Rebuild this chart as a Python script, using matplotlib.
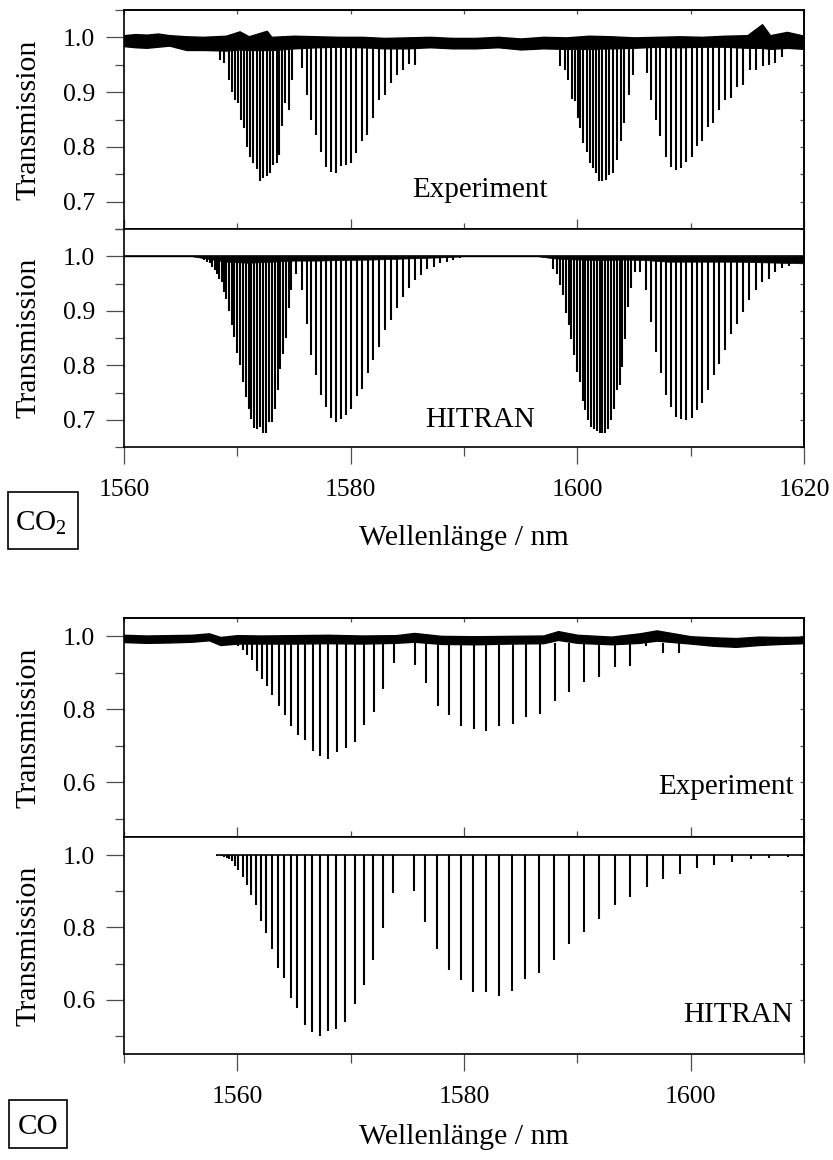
import numpy as np
import matplotlib.pyplot as plt
from matplotlib.patches import Rectangle
from matplotlib.ticker import MultipleLocator

plt.rcParams['font.family'] = ['Liberation Serif', 'DejaVu Serif']
plt.rcParams['mathtext.fontset'] = 'custom'
plt.rcParams['mathtext.rm'] = 'Liberation Serif'

# ---- CO2, HITRAN lines (nm, transmission at line centre) ----
co2_hit_nm = [
    1566.76, 1567.06, 1567.35, 1567.59, 1567.79, 1568.00, 1568.21, 1568.41, 1568.62, 1568.82,
    1569.03, 1569.26, 1569.50, 1569.74, 1570.00, 1570.24, 1570.50, 1570.74, 1571.00, 1571.24,
    1571.50, 1571.76, 1572.03, 1572.29, 1572.56, 1572.82, 1573.06, 1573.32, 1573.56, 1573.79,
    1574.03, 1574.29, 1574.53, 1574.76, 1575.15,
    1575.74, 1576.12, 1576.50, 1576.97, 1577.35, 1577.79, 1578.24, 1578.71, 1579.15, 1579.59,
    1580.06, 1580.53, 1581.00, 1581.50, 1582.00, 1582.50, 1583.03, 1583.53, 1584.06, 1584.59,
    1585.12, 1585.65, 1586.21, 1586.76, 1587.32, 1587.88, 1588.47, 1589.06, 1589.65,
    1597.88, 1598.18, 1598.44, 1598.71, 1598.97, 1599.24, 1599.47, 1599.71, 1599.97, 1600.21,
    1600.47, 1600.71, 1600.97, 1601.21, 1601.47, 1601.71, 1601.97, 1602.21, 1602.47, 1602.71,
    1602.97, 1603.21, 1603.47, 1603.74, 1603.97, 1604.24, 1604.50, 1604.76, 1605.09, 1605.50,
    1606.03, 1606.47, 1606.91, 1607.35, 1607.79, 1608.24, 1608.68, 1609.12, 1609.62, 1610.09,
    1610.56, 1611.03, 1611.53, 1612.03, 1612.53, 1613.06, 1613.59, 1614.12, 1614.65, 1615.18,
    1615.76, 1616.32, 1616.88, 1617.47, 1618.06, 1618.65, 1619.26, 1619.85]
co2_hit_T = [
    0.996, 0.993, 0.990, 0.987, 0.980, 0.974, 0.968, 0.959, 0.952, 0.935,
    0.921, 0.899, 0.873, 0.852, 0.823, 0.801, 0.769, 0.741, 0.720, 0.701,
    0.684, 0.683, 0.687, 0.676, 0.676, 0.696, 0.696, 0.720, 0.754, 0.793,
    0.821, 0.850, 0.905, 0.938, 0.968,
    0.938, 0.876, 0.818, 0.782, 0.745, 0.724, 0.703, 0.695, 0.701, 0.708,
    0.720, 0.744, 0.757, 0.785, 0.809, 0.834, 0.865, 0.883, 0.905, 0.925,
    0.942, 0.956, 0.966, 0.976, 0.980, 0.987, 0.990, 0.993, 0.996,
    0.977, 0.968, 0.947, 0.928, 0.895, 0.873, 0.849, 0.818, 0.788, 0.769,
    0.734, 0.717, 0.699, 0.687, 0.683, 0.679, 0.675, 0.676, 0.676, 0.683,
    0.699, 0.720, 0.754, 0.763, 0.797, 0.849, 0.907, 0.941, 0.971, 0.971,
    0.938, 0.880, 0.824, 0.785, 0.745, 0.724, 0.705, 0.702, 0.699, 0.703,
    0.717, 0.730, 0.754, 0.782, 0.803, 0.828, 0.858, 0.876, 0.898, 0.919,
    0.938, 0.952, 0.959, 0.971, 0.979, 0.983, 0.988, 0.991]
# weak hot-band lines near the top of the HITRAN trace (lower edge)
co2_weak_nm = [1560, 1566, 1567.5, 1569, 1571, 1573, 1575, 1577, 1579, 1582, 1585, 1588,
               1590, 1596.5, 1598, 1600, 1602, 1604, 1606, 1608, 1610, 1612, 1614, 1616,
               1618, 1620]
co2_weak_T = [1.0, 1.0, 0.995, 0.99, 0.988, 0.99, 0.992, 0.992, 0.993, 0.994, 0.996, 0.998,
              1.0, 1.0, 0.996, 0.994, 0.993, 0.994, 0.993, 0.99, 0.99, 0.99, 0.99, 0.989,
              0.988, 0.987]

# ---- CO2, experiment ----
co2_exp_nm = [
    1568.47, 1568.82, 1569.24, 1569.50, 1569.79, 1570.03, 1570.29, 1570.59, 1570.85, 1571.12,
    1571.41, 1571.71, 1572.00, 1572.29, 1572.59, 1572.88, 1573.18, 1573.47, 1573.71, 1573.97,
    1574.24, 1574.53, 1574.82,
    1575.68, 1576.12, 1576.53, 1576.94, 1577.35, 1577.79, 1578.24, 1578.68, 1579.12, 1579.56,
    1580.00, 1580.47, 1580.97, 1581.47, 1582.00, 1582.47, 1583.03, 1583.53, 1584.06, 1584.59,
    1585.12, 1585.67,
    1598.47, 1598.91, 1599.21, 1599.50, 1599.79, 1600.03, 1600.26, 1600.53, 1600.82, 1601.12,
    1601.35, 1601.65, 1601.91, 1602.21, 1602.50, 1602.82, 1603.18, 1603.53, 1603.85, 1604.15,
    1604.53, 1604.88,
    1606.12, 1606.47, 1606.91, 1607.29, 1607.79, 1608.24, 1608.68, 1609.12, 1609.59, 1610.09,
    1610.53, 1611.03, 1611.56, 1612.00, 1612.53, 1613.06, 1613.59, 1614.12, 1614.65, 1615.24,
    1615.77, 1616.41, 1616.94, 1617.44, 1618.03]
co2_exp_T = [
    0.959, 0.953, 0.923, 0.901, 0.886, 0.880, 0.849, 0.834, 0.800, 0.782,
    0.770, 0.759, 0.737, 0.744, 0.746, 0.752, 0.767, 0.770, 0.785, 0.838,
    0.880, 0.868, 0.922,
    0.944, 0.895, 0.849, 0.822, 0.790, 0.764, 0.755, 0.752, 0.765, 0.767,
    0.770, 0.788, 0.810, 0.822, 0.852, 0.885, 0.894, 0.916, 0.931, 0.940,
    0.952, 0.950,
    0.947, 0.941, 0.923, 0.887, 0.883, 0.852, 0.834, 0.807, 0.791, 0.770,
    0.761, 0.752, 0.737, 0.737, 0.740, 0.749, 0.752, 0.776, 0.810, 0.843,
    0.895, 0.932,
    0.935, 0.886, 0.849, 0.819, 0.782, 0.764, 0.758, 0.761, 0.773, 0.782,
    0.801, 0.810, 0.837, 0.843, 0.868, 0.886, 0.889, 0.910, 0.913, 0.941,
    0.941, 0.947, 0.950, 0.953, 0.965]
# noisy baseline band (upper / lower edge)
co2_base_nm = [1560, 1561, 1562, 1563, 1564, 1565.5, 1567, 1569, 1570.2, 1571, 1572.6, 1573,
               1575, 1577, 1579, 1581, 1583, 1585, 1587, 1589, 1591, 1593, 1595, 1597, 1599,
               1601, 1603, 1605, 1607, 1609, 1611, 1613, 1615, 1616.3, 1617, 1618.5, 1620]
co2_base_hi = [1.004, 1.006, 1.005, 1.007, 1.004, 1.002, 1.001, 1.003, 1.011, 1.002, 1.012,
               1.001, 1.003, 1.002, 1.001, 1.001, 0.999, 1.000, 1.001, 0.999, 0.999, 1.001,
               0.998, 1.001, 1.000, 1.003, 1.002, 1.000, 1.001, 1.002, 1.001, 1.003, 1.004,
               1.024, 1.004, 1.010, 1.003]
co2_base_lo = [0.984, 0.982, 0.981, 0.983, 0.985, 0.977, 0.977, 0.976, 0.978, 0.977, 0.977,
               0.977, 0.980, 0.982, 0.983, 0.982, 0.980, 0.980, 0.982, 0.980, 0.980, 0.982,
               0.978, 0.980, 0.979, 0.979, 0.980, 0.981, 0.983, 0.982, 0.983, 0.983, 0.981,
               0.981, 0.979, 0.981, 0.979]

# ---- CO, HITRAN lines ----
co_hit_nm = [
    1558.21, 1558.52, 1558.80, 1559.07, 1559.30, 1559.53, 1559.77, 1560.08, 1560.47, 1560.86,
    1561.24, 1561.67, 1562.10, 1562.57, 1563.07, 1563.61, 1564.16, 1564.70, 1565.29, 1565.95,
    1566.61, 1567.31, 1568.01, 1568.74, 1569.52, 1570.34, 1571.15, 1572.01, 1572.86, 1573.76,
    1575.62, 1576.60, 1577.64, 1578.66, 1579.70, 1580.79, 1581.92, 1583.09, 1584.25, 1585.42,
    1586.66, 1587.94, 1589.23, 1590.55, 1591.91, 1593.31, 1594.67, 1596.11, 1597.54, 1599.02,
    1600.54, 1602.09, 1603.65, 1605.28, 1606.91, 1608.58]
co_hit_T = [
    0.998, 0.997, 0.995, 0.993, 0.990, 0.985, 0.970, 0.958, 0.939, 0.918,
    0.890, 0.863, 0.819, 0.784, 0.741, 0.689, 0.660, 0.606, 0.578, 0.531,
    0.512, 0.500, 0.514, 0.520, 0.538, 0.588, 0.642, 0.711, 0.798, 0.896,
    0.900, 0.814, 0.741, 0.683, 0.654, 0.622, 0.622, 0.611, 0.624, 0.657,
    0.674, 0.711, 0.755, 0.788, 0.823, 0.862, 0.885, 0.912, 0.933, 0.949,
    0.965, 0.972, 0.981, 0.988, 0.991, 0.994]

# ---- CO, experiment ----
co_exp_nm = [
    1560.10, 1560.50, 1560.89, 1561.27, 1561.71, 1562.15, 1562.60, 1563.10, 1563.66, 1564.18,
    1564.77, 1565.33, 1565.95, 1566.65, 1567.33, 1568.04, 1568.77, 1569.57, 1570.36, 1571.18,
    1572.04, 1572.89, 1573.78,
    1575.66, 1576.66, 1577.69, 1578.72, 1579.75, 1580.84, 1581.95, 1583.13, 1584.31, 1585.48,
    1586.72, 1587.99, 1589.25, 1590.55, 1591.90, 1593.28, 1594.63, 1596.10, 1597.52, 1598.99,
    1600.50]
co_exp_T = [
    0.972, 0.963, 0.950, 0.936, 0.904, 0.883, 0.864, 0.840, 0.809, 0.784,
    0.755, 0.729, 0.717, 0.685, 0.672, 0.663, 0.683, 0.695, 0.709, 0.757,
    0.792, 0.856, 0.927,
    0.922, 0.873, 0.809, 0.783, 0.754, 0.745, 0.741, 0.754, 0.759, 0.778,
    0.788, 0.823, 0.846, 0.876, 0.888, 0.915, 0.919, 0.972, 0.954, 0.954,
    0.975]
co_base_nm = [1550, 1552, 1554, 1556, 1557.5, 1558.5, 1560, 1562, 1565, 1568, 1571, 1574,
              1575.6, 1578, 1581, 1584, 1587, 1588.3, 1590, 1593, 1595.5, 1597, 1600, 1602,
              1604, 1606, 1608, 1610]
co_base_hi = [1.004, 1.002, 1.003, 1.004, 1.008, 0.998, 1.003, 1.002, 1.003, 1.004, 1.002,
              1.003, 1.009, 1.001, 1.000, 1.001, 1.002, 1.014, 1.004, 0.999, 1.008, 1.016,
              1.000, 0.997, 0.995, 0.999, 0.998, 0.999]
co_base_lo = [0.984, 0.982, 0.983, 0.985, 0.989, 0.976, 0.980, 0.980, 0.980, 0.981, 0.980,
              0.982, 0.985, 0.979, 0.978, 0.980, 0.981, 0.990, 0.982, 0.978, 0.982, 0.988,
              0.980, 0.974, 0.971, 0.976, 0.979, 0.981]

W, H = 833, 1160
fig = plt.figure(figsize=(W / 100, H / 100), dpi=100)


def pbox(l, t, r, b):
    return [l / W, 1 - b / H, (r - l) / W, (b - t) / H]


def style(ax, xlim, ylim, ymaj, ymin, bottom):
    ax.set_xlim(*xlim)
    ax.set_ylim(*ylim)
    ax.xaxis.set_major_locator(MultipleLocator(20))
    ax.xaxis.set_minor_locator(MultipleLocator(10))
    ax.yaxis.set_major_locator(MultipleLocator(ymaj))
    ax.yaxis.set_minor_locator(MultipleLocator(ymin))
    ax.yaxis.set_major_formatter(lambda v, p: f"{v:.1f}")
    for s in ax.spines.values():
        s.set_linewidth(1.2)
    ax.tick_params(axis='y', which='both', direction='out', left=True, right=False,
                   color='0.3', width=0.9, labelsize=18.5, pad=8)
    ax.tick_params(axis='y', which='major', length=13)
    ax.tick_params(axis='y', which='minor', length=6.5)
    if bottom:
        ax.tick_params(axis='x', which='both', direction='out', top=False, color='0.3',
                       width=0.9, labelsize=18.5, pad=11)
        ax.tick_params(axis='x', which='major', length=12.2)
        ax.tick_params(axis='x', which='minor', length=6.5)
    else:
        ax.tick_params(axis='x', which='both', direction='inout', top=False, color='0.3',
                       width=0.9, labelbottom=False)
        ax.tick_params(axis='x', which='major', length=15)
        ax.tick_params(axis='x', which='minor', length=8)
        sx = ax.secondary_xaxis('top')
        sx.xaxis.set_major_locator(MultipleLocator(20))
        sx.xaxis.set_minor_locator(MultipleLocator(10))
        sx.tick_params(which='both', direction='in', length=3, color='0.3', width=0.9,
                       labeltop=False)
        sx.spines['top'].set_linewidth(1.2)
    sy = ax.secondary_yaxis('right')
    sy.yaxis.set_major_locator(MultipleLocator(ymaj))
    sy.yaxis.set_minor_locator(MultipleLocator(ymin))
    sy.tick_params(which='both', direction='in', length=3, color='0.3', width=0.9,
                   labelright=False)
    sy.spines['right'].set_linewidth(1.2)


ax1 = fig.add_axes(pbox(124, 10, 804, 229))
ax2 = fig.add_axes(pbox(124, 229, 804, 447))
ax3 = fig.add_axes(pbox(124, 618, 804, 837))
ax4 = fig.add_axes(pbox(124, 837, 804, 1054))

LW = 1.5

# CO2 experiment
ax1.fill_between(co2_base_nm, co2_base_lo, co2_base_hi, color='black', lw=1.0)
ax1.vlines(co2_exp_nm, co2_exp_T, 0.982, color='black', lw=LW)
ax1.text(1591.4, 0.709, 'Experiment', fontsize=21, ha='center', va='baseline')
style(ax1, (1560, 1620), (0.65, 1.05), 0.1, 0.05, False)

# CO2 HITRAN
ax2.hlines(1.0, 1560, 1620, color='black', lw=1.2)
ax2.fill_between(co2_weak_nm, co2_weak_T, 1.0, color='black', lw=0.5)
ax2.vlines(co2_hit_nm, co2_hit_T, 1.0, color='black', lw=LW)
ax2.text(1591.4, 0.687, 'HITRAN', fontsize=21, ha='center', va='baseline')
style(ax2, (1560, 1620), (0.65, 1.05), 0.1, 0.05, True)

# CO experiment
ax3.fill_between(co_base_nm, co_base_lo, co_base_hi, color='black', lw=1.0)
ax3.vlines(co_exp_nm, co_exp_T, 0.982, color='black', lw=LW)
ax3.text(1609.1, 0.568, 'Experiment', fontsize=21, ha='right', va='baseline')
style(ax3, (1550, 1610), (0.45, 1.05), 0.2, 0.1, False)

# CO HITRAN
ax4.hlines(1.0, 1558.1, 1610, color='black', lw=1.2)
ax4.vlines(co_hit_nm, co_hit_T, 1.0, color='black', lw=LW)
ax4.text(1609.0, 0.538, 'HITRAN', fontsize=21, ha='right', va='baseline')
style(ax4, (1550, 1610), (0.45, 1.05), 0.2, 0.1, True)

# y labels
for top, bot in [(10, 229), (229, 447), (618, 837), (837, 1054)]:
    fig.text(28 / W, 1 - (top + bot) / 2 / H, 'Transmission', rotation=90,
             ha='center', va='center', fontsize=21.5)

# x labels
fig.text(464 / W, 1 - 545 / H, 'Wellenlänge / nm', ha='center', va='baseline', fontsize=21.5)
fig.text(464 / W, 1 - 1144 / H, 'Wellenlänge / nm', ha='center', va='baseline', fontsize=21.5)

# molecule boxes
fig.add_artist(Rectangle((8 / W, 1 - 549 / H), 70 / W, 57 / H, transform=fig.transFigure,
                         fill=False, lw=1.2, edgecolor='black'))
fig.text(41 / W, 1 - 530 / H, r'CO$_{2}$', ha='center', va='baseline', fontsize=21)
fig.add_artist(Rectangle((9 / W, 1 - 1148 / H), 58 / W, 48 / H, transform=fig.transFigure,
                         fill=False, lw=1.2, edgecolor='black'))
fig.text(38 / W, 1 - 1134 / H, 'CO', ha='center', va='baseline', fontsize=21)

fig.savefig('out.png', dpi=100)
